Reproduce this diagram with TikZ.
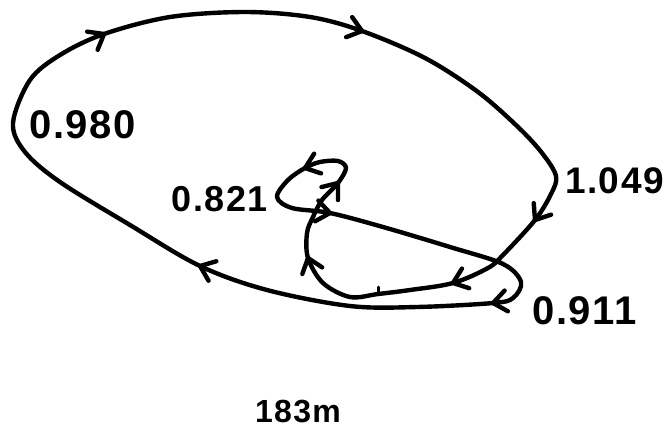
\documentclass[tikz,border=0pt]{standalone}
\usepackage{fontspec}
\setmainfont{Liberation Sans}[LetterSpace=4]
\usetikzlibrary{calc}
\newcommand\chevmark[2]{\draw[curve] ($(#1)!17pt!38:(#2)$) -- (#1) -- ($(#1)!17pt!-38:(#2)$);}
\begin{document}
\begin{tikzpicture}[x=1pt,y=-1pt,
  curve/.style={line width=4.4pt, line join=round, line cap=round},
  lbl/.style={inner sep=0pt, font=\fontsize{40}{42}\selectfont\bfseries}]
\useasboundingbox (0,0) rectangle (671,432);
\draw[curve] plot[smooth cycle, tension=0.55] coordinates {
(13,123) (30,80) (60,55) (104,34) (170,17) (245,12) (310,17) (362,31)
(425,58) (478,92) (518,127) (542,153) (556,176) (551,194) (535,220)
(503,255) (488,268) (453,283) (410,290) (378,294) (350,297) (323,283)
(308,258) (307,233) (313,217) (322,200) (338,183) (346,168) (338,161)
(320,162) (305,168) (288,180) (277,197) (292,208) (330,213) (383,227)
(450,247) (503,264) (521,282) (513,298) (493,303) (417,307) (350,306)
(267,290) (200,266) (130,225) (60,182) (25,152)};
\chevmark{104,34}{85,45}
\chevmark{362,31}{342,25}
\chevmark{535,220}{545,205}
\chevmark{453,283}{472,276}
\chevmark{308,258}{314,276}
\chevmark{338,183}{327,197}
\chevmark{305,168}{322,162}
\chevmark{330,213}{311,210}
\chevmark{493,303}{512,300}
\chevmark{200,266}{220,274}
\draw[curve,line width=3pt] (378,287) -- (378,293);
\node[lbl,anchor=west] (a) at (29,125) {0.980};
\node[lbl,anchor=west,font=\fontsize{37}{39}\selectfont\bfseries] (b) at (565,181) {1.049};
\node[lbl,anchor=east,font=\fontsize{36}{38}\selectfont\bfseries] (c) at (268,199) {0.821};
\node[lbl,anchor=west] (d) at (532,311) {0.911};
\node[lbl,anchor=west,font=\fontsize{32}{34}\selectfont\bfseries] (e) at (255,411) {183m};
\end{tikzpicture}
\end{document}
